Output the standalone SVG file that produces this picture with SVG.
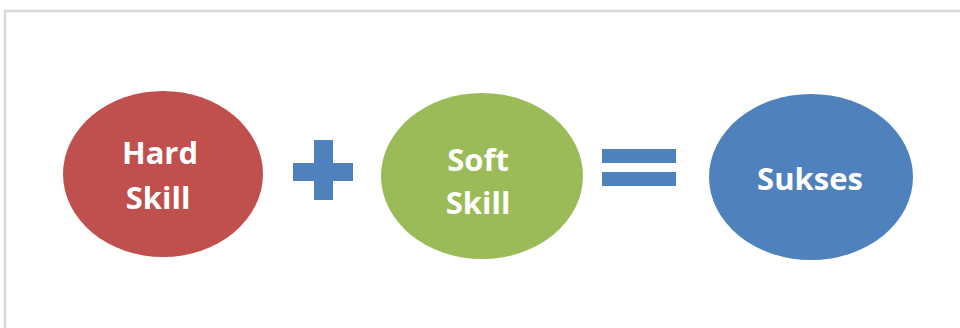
<svg xmlns="http://www.w3.org/2000/svg" width="960" height="328" viewBox="0 0 960 328">
  <style>
    .lbl { font-family: "Open Sans", "Liberation Sans", sans-serif; font-weight: bold; font-size: 31px; fill: #ffffff; text-anchor: middle; }
    .op { fill: #4F81BD; }
  </style>
  <rect x="0" y="0" width="960" height="328" fill="#ffffff"/>
  <path d="M5 328 V11 H960" fill="none" stroke="#D9D9D9" stroke-width="2.5"/>
  <g id="hard-skill">
    <ellipse cx="163" cy="174" rx="100" ry="83" fill="#C0504D"/>
    <text class="lbl" x="160" y="164">Hard</text>
    <text class="lbl" x="158" y="209">Skill</text>
  </g>
  <g id="soft-skill">
    <ellipse cx="482" cy="176" rx="101" ry="83" fill="#9BBB59"/>
    <text class="lbl" x="478" y="171">Soft</text>
    <text class="lbl" x="478" y="214">Skill</text>
  </g>
  <g id="sukses">
    <ellipse cx="811" cy="177" rx="102" ry="83" fill="#4F81BD"/>
    <text class="lbl" x="810" y="190">Sukses</text>
  </g>
  <g id="connectors">
    <path class="op" d="M314 140 H333 V163 H353 V181 H333 V200 H314 V181 H293 V163 H314 Z"/>
    <rect class="op" x="602" y="149" width="74" height="14"/>
    <rect class="op" x="602" y="172" width="74" height="14"/>
  </g>
</svg>
